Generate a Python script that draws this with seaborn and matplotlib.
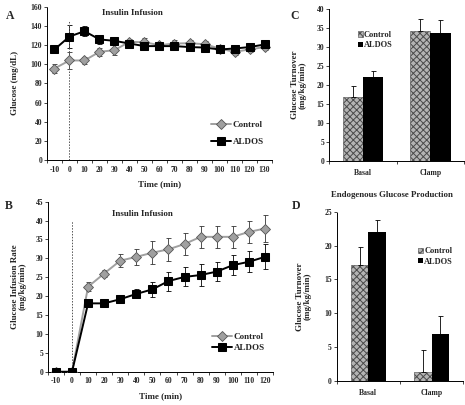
import numpy as np
import pandas as pd
import matplotlib
matplotlib.use("Agg")
import matplotlib.pyplot as plt
from matplotlib.container import BarContainer
import seaborn as sns

# ---------------- data ----------------
time_a = ['-10', '0', '10', '20', '30', '40', '50', '60', '70', '80', '90', '100', '110', '120', '130']
ctrl_a = [95.6, 104, 104, 113, 114.8, 123.5, 123, 120, 121.7, 122, 121, 116.5, 113, 115.5, 118]
ctrl_a_err = [5, 9, 4, 4, 5, 3, 4, 3, 4, 3, 3, 3, 3, 3, 3]
aldos_a = [115.5, 129, 134.6, 126, 124.5, 121.7, 119, 119, 119, 118, 117.5, 115.5, 116.5, 118, 120.7]
aldos_a_err = [4, 12, 5, 5, 4, 3, 3, 3, 3, 3, 3, 3, 3, 3, 3]

time_b = ['-10', '0', '10', '20', '30', '40', '50', '60', '70', '80', '90', '100', '110', '120']
ctrl_b = [0, 0, 22.5, 26, 29.4, 30.4, 31.5, 32.4, 33.8, 35.7, 35.7, 35.7, 37, 37.9]
ctrl_b_err = [0, 0, 1.2, 1.0, 1.8, 2.2, 3.0, 3.0, 3.0, 3.0, 3.0, 3.0, 3.0, 3.5]
aldos_b = [0, 0, 18.1, 18.1, 19.2, 20.6, 21.8, 24, 25.1, 25.6, 26.5, 28.2, 29.1, 30.4]
aldos_b_err = [0, 0, 0.6, 0.8, 1.0, 1.2, 2.0, 2.5, 2.5, 2.8, 2.6, 2.6, 2.8, 3.3]

bar_cats = ['Basal', 'Clamp']
groups = ['Control', 'ALDOS']
turn_ctrl = [16.9, 34.3]
turn_ctrl_err = [2.8, 3.1]
turn_aldos = [22.0, 33.7]
turn_aldos_err = [1.8, 3.5]
egp_ctrl = [17.1, 1.3]
egp_ctrl_err = [2.7, 3.2]
egp_aldos = [22.0, 6.9]
egp_aldos_err = [1.8, 2.7]

# ---------------- style ----------------
sns.set_theme(style="ticks")
plt.rcParams['font.family'] = ['Liberation Serif', 'DejaVu Serif']
plt.rcParams['font.weight'] = 'bold'
plt.rcParams['axes.labelweight'] = 'bold'
plt.rcParams['hatch.linewidth'] = 0.7

TICK = 5.5
LAB = 6.5
CTRL_C = '#a0a0a0'

fig = plt.figure(figsize=(4.65, 4.05), dpi=100)
axA = fig.add_axes([0.101, 0.605, 0.484, 0.378])
axB = fig.add_axes([0.103, 0.082, 0.484, 0.420])
axC = fig.add_axes([0.708, 0.603, 0.290, 0.374])
axD = fig.add_axes([0.724, 0.060, 0.272, 0.417])


def style_axes(ax):
    sns.despine(ax=ax)
    ax.tick_params(axis='both', labelsize=TICK, length=2, width=0.6, pad=1.5, direction='out')
    for s in ax.spines.values():
        s.set_linewidth(0.7)
        s.set_color('black')
    for lab in ax.get_xticklabels() + ax.get_yticklabels():
        lab.set_fontweight('bold')


def line_panel(ax, times, ctrl, ctrl_err, aldos, aldos_err, ymax, ystep, vtop):
    n = len(times)
    pos = np.arange(n)
    dfc = pd.DataFrame({'pos': pos, 'val': ctrl})
    dfa = pd.DataFrame({'pos': pos, 'val': aldos})
    ax.errorbar(pos, ctrl, yerr=ctrl_err, fmt='none', ecolor='#333333',
                elinewidth=0.6, capsize=1.8, capthick=0.6, zorder=2)
    ax.errorbar(pos, aldos, yerr=aldos_err, fmt='none', ecolor='black',
                elinewidth=0.6, capsize=1.8, capthick=0.6, zorder=2)
    sns.lineplot(data=dfc, x='pos', y='val', ax=ax, color=CTRL_C, marker='D',
                 markersize=5.2, markeredgecolor='#555555', markeredgewidth=0.6,
                 linewidth=1.4, label='Control', zorder=3)
    sns.lineplot(data=dfa, x='pos', y='val', ax=ax, color='black', marker='s',
                 markersize=5.2, markeredgecolor='black', linewidth=1.4,
                 label='ALDOS', zorder=4)
    ax.vlines(1, 0, vtop, colors='#555555', linestyles=(0, (1.5, 1.5)), linewidth=0.7)
    ax.set_xlim(-0.5, n - 0.5)
    ax.set_ylim(0, ymax)
    ax.set_yticks(np.arange(0, ymax + 0.1, ystep))
    ax.set_xticks(pos)
    ax.set_xticklabels(times)
    ax.set_xticks(np.arange(n + 1) - 0.5, minor=True)
    ax.set_xlabel('Time (min)', fontsize=LAB, fontweight='bold', labelpad=5)
    style_axes(ax)
    ax.tick_params(axis='x', which='major', length=0, pad=4)
    ax.tick_params(axis='x', which='minor', length=2, width=0.6, direction='out')


line_panel(axA, time_a, ctrl_a, ctrl_a_err, aldos_a, aldos_a_err, 160, 20, 145)
axA.set_ylabel('Glucose (mg/dL)', fontsize=LAB, fontweight='bold', labelpad=8)
axA.legend(loc='lower right', bbox_to_anchor=(1.0, 0.04), frameon=False,
           prop={'size': 6.5, 'weight': 'bold'}, handlelength=2.2, handletextpad=0.2,
           labelspacing=0.9)
axA.text(0.38, 0.985, 'Insulin Infusion', transform=axA.transAxes, ha='center', va='top',
         fontsize=6.5, fontweight='bold')
axA.spines['left'].set_linestyle((0, (1, 1)))

line_panel(axB, time_b, ctrl_b, ctrl_b_err, aldos_b, aldos_b_err, 45, 5, 40)
axB.set_ylabel('Glucose Infusion Rate\n(mg/kg/min)', fontsize=LAB, fontweight='bold',
               labelpad=6, linespacing=1.0)
axB.legend(loc='lower right', bbox_to_anchor=(1.0, 0.07), frameon=False,
           prop={'size': 6.5, 'weight': 'bold'}, handlelength=2.2, handletextpad=0.2,
           labelspacing=0.3)
axB.text(0.42, 0.95, 'Insulin Infusion', transform=axB.transAxes, ha='center', va='top',
         fontsize=6.5, fontweight='bold')


def bar_panel(ax, ctrl, ctrl_err, aldos, aldos_err, ymax, width):
    df = pd.DataFrame({'cat': bar_cats * 2,
                       'group': [groups[0]] * 2 + [groups[1]] * 2,
                       'val': ctrl + aldos})
    sns.barplot(data=df, x='cat', y='val', hue='group', hue_order=groups,
                palette={'Control': '#b4b4b4', 'ALDOS': 'black'}, width=width,
                ax=ax, legend=False, saturation=1, linewidth=0)
    bar_conts = [c for c in ax.containers if isinstance(c, BarContainer)]
    errs = [ctrl_err, aldos_err]
    for gi, cont in enumerate(bar_conts):
        for bi, bar in enumerate(cont.patches):
            if gi == 0:
                bar.set_hatch('xxxxx')
                bar.set_edgecolor('#4a4a4a')
                bar.set_linewidth(0.4)
            x = bar.get_x() + bar.get_width() / 2
            ax.errorbar(x, bar.get_height(), yerr=[[0], [errs[gi][bi]]], fmt='none',
                        ecolor='black', elinewidth=0.6, capsize=1.8, capthick=0.6)
    ax.set_xlim(-0.5, 1.5)
    ax.set_ylim(0, ymax)
    ax.set_yticks(np.arange(0, ymax + 0.1, 5))
    ax.set_xticks([-0.5, 0.5, 1.5], minor=True)
    ax.set_xlabel('')
    style_axes(ax)
    ax.tick_params(axis='x', which='major', length=0, pad=6)
    ax.tick_params(axis='x', which='minor', length=2, width=0.6)
    ax.legend(bar_conts, groups, frameon=False, prop={'size': 6, 'weight': 'bold'},
              handlelength=0.6, handleheight=0.6, handletextpad=0.1, labelspacing=0.3,
              borderaxespad=0)


bar_panel(axC, turn_ctrl, turn_ctrl_err, turn_aldos, turn_aldos_err, 40, 0.6)
axC.set_ylabel('Glucose Turnover\n(mg/kg/min)', fontsize=LAB, fontweight='bold',
               labelpad=7, linespacing=1.0)
axC.get_legend().set_bbox_to_anchor((0.19, 0.88))
axC.get_legend().set_loc('upper left')

bar_panel(axD, egp_ctrl, egp_ctrl_err, egp_aldos, egp_aldos_err, 25, 0.55)
axD.set_ylabel('Glucose Turnover\n(mg/kg/min)', fontsize=LAB, fontweight='bold',
               labelpad=9, linespacing=1.0)
axD.get_legend().set_bbox_to_anchor((0.62, 0.81))
axD.get_legend().set_loc('upper left')
axD.spines['left'].set_linestyle((0, (1, 1)))
fig.text(0.843, 0.518, 'Endogenous Glucose Production', ha='center', va='center',
         fontsize=6.3, fontweight='bold')

for letter, (x, y) in zip('ABCD', [(0.012, 0.975), (0.010, 0.505), (0.625, 0.975), (0.628, 0.505)]):
    fig.text(x, y, letter, fontsize=8.5, fontweight='bold', ha='left', va='top')

fig.savefig('out.png', dpi=100)
